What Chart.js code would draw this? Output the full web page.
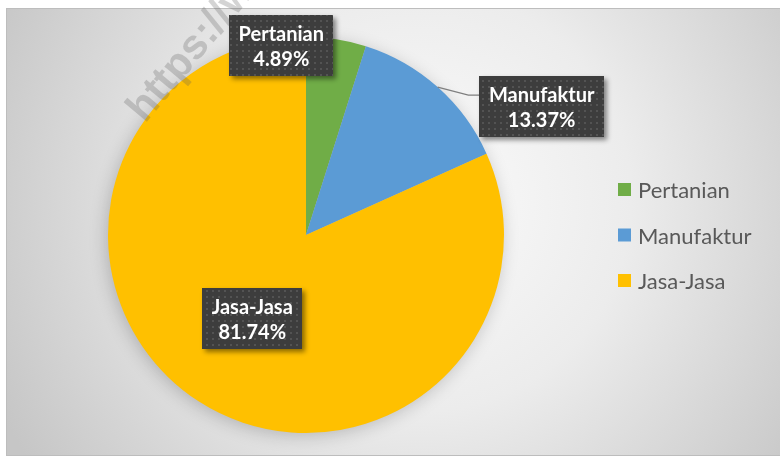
<!DOCTYPE html>
<html>
<head>
<meta charset="utf-8">
<script src="https://cdn.jsdelivr.net/npm/chart.js@4.4.0/dist/chart.umd.min.js"></script>
<style>
  html, body { margin: 0; padding: 0; background: #fff; }
  #wrap { width: 780px; height: 459px; }
</style>
</head>
<body>
<div id="wrap"><canvas id="pieChart" width="780" height="459"></canvas></div>
<script>
// Data
const sectors = ["Pertanian", "Manufaktur", "Jasa-Jasa"];
const shares = [4.89, 13.37, 81.74];
const sectorColors = ["#70AD47", "#5B9BD5", "#FFC000"];

const LABEL_FONT = "bold 20px Lato";
const LEGEND_FONT = "22px Lato";

// dotted fill for the data label boxes
function makeDotPattern(ctx) {
  const c = document.createElement("canvas");
  c.width = 6; c.height = 6;
  const p = c.getContext("2d");
  p.fillStyle = "#3d3d3d";
  p.fillRect(0, 0, 6, 6);
  p.fillStyle = "#535353";
  p.fillRect(2, 2, 2, 2);
  return ctx.createPattern(c, "repeat");
}

// grey frame with radial shading
const backdrop = {
  id: "backdrop",
  beforeDraw(chart) {
    const { ctx, width, height } = chart;
    ctx.save();
    ctx.fillStyle = "#ffffff";
    ctx.fillRect(0, 0, width, height);
    const g = ctx.createRadialGradient(420, 200, 0, 420, 200, 470);
    g.addColorStop(0, "#fbfbfb");
    g.addColorStop(0.45, "#ececec");
    g.addColorStop(1, "#c6c6c6");
    ctx.fillStyle = g;
    ctx.fillRect(6, 8, width - 6, 448);
    ctx.strokeStyle = "#bdbdbd";
    ctx.lineWidth = 1;
    ctx.strokeRect(6.5, 8.5, width - 6, 447);
    ctx.restore();
  }
};

// soft shadow under the pie
const pieShadow = {
  id: "pieShadow",
  beforeDatasetsDraw(chart) {
    const arc = chart.getDatasetMeta(0).data[0];
    if (!arc) return;
    const { ctx } = chart;
    ctx.save();
    ctx.shadowColor = "rgba(0,0,0,0.22)";
    ctx.shadowBlur = 18;
    ctx.shadowOffsetX = -2;
    ctx.shadowOffsetY = 3;
    ctx.fillStyle = "#bbb";
    ctx.beginPath();
    ctx.arc(arc.x, arc.y, arc.outerRadius - 1, 0, Math.PI * 2);
    ctx.fill();
    ctx.restore();
  }
};

// watermark, callout boxes and legend
const overlays = {
  id: "overlays",
  afterDatasetsDraw(chart, args, opts) {
    const { ctx } = chart;
    const meta = chart.getDatasetMeta(0);

    // watermark
    ctx.save();
    ctx.translate(145, 124);
    ctx.rotate(-50 * Math.PI / 180);
    ctx.font = "bold 42px 'Liberation Sans'";
    ctx.fillStyle = "rgba(90,90,90,0.26)";
    ctx.fillText("https://www", 0, 0);
    ctx.restore();

    // data labels
    const pattern = makeDotPattern(ctx);
    meta.data.forEach((arc, i) => {
      const place = opts.placement[i];
      const mid = (arc.startAngle + arc.endAngle) / 2;
      const ax = arc.x + Math.cos(mid) * arc.outerRadius * place.f;
      const ay = arc.y + Math.sin(mid) * arc.outerRadius * place.f;
      const cx = ax + place.dx;
      const cy = ay + place.dy;
      const line1 = chart.data.labels[i];
      const line2 = chart.data.datasets[0].data[i].toFixed(2) + "%";
      ctx.save();
      ctx.font = LABEL_FONT;
      const w = Math.max(ctx.measureText(line1).width, ctx.measureText(line2).width) + 19;
      const h = 61;
      const left = cx - w / 2, top = cy - h / 2;

      if (place.leader) {
        ctx.strokeStyle = "#7f7f7f";
        ctx.lineWidth = 1.2;
        ctx.beginPath();
        ctx.moveTo(ax, ay);
        ctx.lineTo(left - 11, cy - 11);
        ctx.lineTo(left, cy - 11);
        ctx.stroke();
      }

      ctx.shadowColor = "rgba(0,0,0,0.45)";
      ctx.shadowBlur = 5;
      ctx.shadowOffsetX = 3;
      ctx.shadowOffsetY = 3;
      ctx.fillStyle = pattern;
      ctx.fillRect(Math.round(left), Math.round(top), Math.round(w), h);
      ctx.shadowColor = "transparent";

      ctx.fillStyle = "#ffffff";
      ctx.textAlign = "center";
      ctx.textBaseline = "middle";
      ctx.fillText(line1, cx, cy - 11);
      ctx.fillText(line2, cx, cy + 14);
      ctx.restore();
    });

    // legend
    const lg = opts.legend;
    ctx.save();
    ctx.font = LEGEND_FONT;
    ctx.textBaseline = "middle";
    chart.data.labels.forEach((lab, i) => {
      const y = lg.y + i * lg.gap;
      ctx.fillStyle = chart.data.datasets[0].backgroundColor[i];
      ctx.fillRect(lg.x, y - 7, 13, 13);
      ctx.fillStyle = "#595959";
      ctx.fillText(lab, lg.x + 20, y + 1);
    });
    ctx.restore();
  }
};

new Chart(document.getElementById("pieChart"), {
  type: "pie",
  data: {
    labels: sectors,
    datasets: [{
      data: shares,
      backgroundColor: sectorColors,
      borderWidth: 0
    }]
  },
  options: {
    responsive: false,
    animation: false,
    devicePixelRatio: 1,
    layout: { padding: { left: 108, right: 276, top: 37, bottom: 26 } },
    plugins: {
      legend: { display: false },
      tooltip: { enabled: false },
      overlays: {
        placement: [
          { f: 1, dx: -55, dy: 6 },
          { f: 1, dx: 104, dy: 19, leader: true },
          { f: 0.5, dx: 0, dy: 0 }
        ],
        legend: { x: 618, y: 190, gap: 45.5 }
      }
    }
  },
  plugins: [backdrop, pieShadow, overlays]
});
</script>
</body>
</html>
